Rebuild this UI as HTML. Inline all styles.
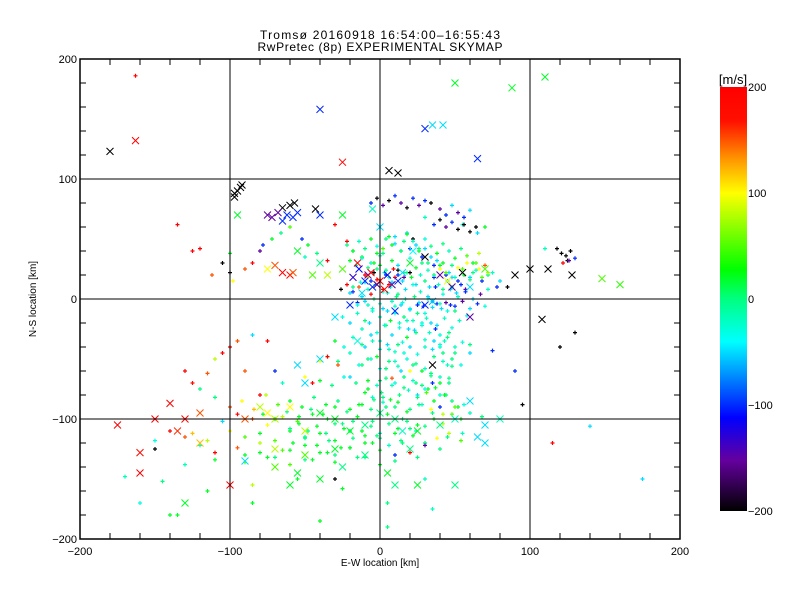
<!DOCTYPE html>
<html><head><meta charset="utf-8"><style>
body{margin:0;background:#fff;}
svg{display:block;font-family:"Liberation Sans",sans-serif;}
</style></head><body>
<svg id="chart" width="800" height="600">
<rect width="800" height="600" fill="#fff"/>
<text x="380" y="39" text-anchor="middle" font-size="12" textLength="240">Tromsø 20160918 16:54:00–16:55:43</text>
<text x="380" y="51" text-anchor="middle" font-size="12" textLength="245">RwPretec (8p) EXPERIMENTAL SKYMAP</text>
<g id="marks"></g>
<g id="axes"></g>
<text x="380" y="566" text-anchor="middle" font-size="10">E-W location [km]</text>
<text x="0" y="0" transform="translate(36,299) rotate(-90)" text-anchor="middle" font-size="10">N-S location [km]</text>
<defs><linearGradient id="cb" x1="0" y1="1" x2="0" y2="0">
<stop offset="0" stop-color="#000"/><stop offset="0.12" stop-color="#64009f"/><stop offset="0.22" stop-color="#0000ff"/><stop offset="0.40" stop-color="#00ffff"/><stop offset="0.50" stop-color="#00ff80"/><stop offset="0.57" stop-color="#00ff00"/><stop offset="0.75" stop-color="#ffff00"/><stop offset="0.83" stop-color="#ff9600"/><stop offset="0.92" stop-color="#ff1000"/><stop offset="1" stop-color="#ff0000"/></linearGradient></defs>
<rect x="720" y="87" width="27" height="424" fill="url(#cb)"/>
<text x="733" y="84" text-anchor="middle" font-size="13">[m/s]</text>
<g id="cbticks" font-size="11"></g>
</svg>
<script>
const xTicks=[-200,-100,0,100,200];
const yTicks=[-200,-100,0,100,200];
const cbTicks=[200,100,0,-100,-200];
// big X markers [x_km, y_km, velocity]
const bigX=[-180,-163,-40,-25,50,88,110,30,35,42,6,12,65,-95,-93,-97,-92,-97,-65,-60,-57,-68,-72,-62,-58,-65,-75,-55,-43,-40,-95,-25,-5,0,-40,-55,-70,-65,-60,-75,-58,-45,-35,-25,-15,-10,-8,-5,0,5,8,12,15,3,-12,20,30,40,45,55,60,70,90,100,112,128,108,148,160,-30,-20,10,30,60,-15,-40,-55,-50,35,60,70,65,-90,-80,-75,-70,-60,-50,-40,-30,-20,-10,0,10,15,25,40,50,20,-10,-30,-50,-70,-100,-120,-130,-140,-150,-135,-160,-175,-160,-90,-70,-55,-40,-25,5,10,50,-60,-130,25,80,70,-120,-18,-2,-14,-6,22,35,48];
const bigY=[123,132,158,114,180,176,185,142,145,145,107,105,117,90,93,88,95,85,76,78,80,72,68,70,68,65,70,72,75,70,70,70,75,60,30,40,28,22,20,25,22,20,20,25,30,15,20,10,15,20,12,15,22,8,5,30,35,20,15,22,10,25,20,25,25,20,-17,17,12,-15,-5,-10,-5,-15,-35,-50,-55,-70,-55,-85,-120,-115,-100,-90,-95,-100,-90,-110,-95,-100,-110,-105,-95,-100,-110,-110,-105,-100,-125,-130,-125,-130,-125,-155,-95,-100,-87,-100,-110,-128,-105,-145,-135,-140,-145,-150,-140,-145,-155,-155,-155,-170,-155,-100,-105,-120,18,12,25,22,40,-2,10];
const bigV=[-200,200,-100,200,20,20,20,-100,-50,-50,-200,-200,-100,-200,-200,-200,-200,-200,-200,-200,-200,-150,-150,-100,-100,-100,-150,-100,-200,-100,20,20,-20,-50,0,20,150,200,180,100,150,50,80,50,200,-100,-150,-100,200,-120,-150,-100,-50,200,-50,20,-200,-150,100,-200,-50,50,-200,-200,-200,-200,-200,50,40,-50,-100,-100,-100,-150,-30,-50,-50,-50,-200,-50,-50,-50,150,80,100,80,100,80,20,20,20,0,0,0,-20,20,0,-20,0,0,20,50,80,200,150,180,200,200,160,180,200,200,-50,50,20,20,0,20,0,0,20,20,20,-20,-50,120,-130,-160,-110,200,-40,-60,-150];
// small + markers
const smX=[-163,-135,-125,-120,-112,-105,-100,-98,-90,-85,-80,-78,-72,-66,-60,-52,-48,-42,-35,-30,-22,-18,-12,-6,-2,2,4,8,10,14,16,18,20,22,24,26,28,30,32,34,36,38,40,42,44,46,48,50,52,55,58,60,62,64,66,68,70,72,75,78,80,85,-10,-6,-2,0,3,6,9,12,15,18,21,24,27,30,33,36,39,42,45,48,51,54,57,-20,-15,-12,-8,-4,2,5,8,11,14,17,20,23,26,29,32,35,38,41,44,47,50,-25,-20,-15,-10,-5,0,4,7,10,13,16,19,22,25,28,31,34,37,40,43,46,-30,-24,-18,-12,-6,0,6,12,18,24,30,36,42,48,54,-35,-28,-20,-14,-8,-2,4,10,16,22,28,34,40,46,-40,-32,-24,-16,-8,0,8,16,24,32,40,48,56,-110,-100,-92,-84,-76,-68,-60,-52,-44,-36,-28,-20,-12,-4,4,12,20,28,36,44,52,60,68,-105,-95,-85,-75,-65,-55,-45,-35,-25,-15,-5,5,15,25,35,45,55,-150,-140,-130,-125,-115,-100,-90,-80,-70,-60,-50,-40,-30,-20,-10,0,10,20,30,40,-120,-110,-95,-80,-65,-50,-35,-20,-5,10,25,-130,-110,-90,-75,-60,-45,-30,-15,0,15,30,-170,-145,-115,-85,-55,-25,5,35,-135,-85,-40,5,-100,-50,110,125,120,130,95,140,115,175,-150,-160,-140,-130,-120,-110,-100,-85,-75,-95,-105,-115,-125,-80,-90,-28,-35,-40,-45,-50,20,25,30,35,40,45,50,60,-65,-70,-20,-10,2,8,14,40,60,75,90,30,55,65,70,-30];
const smY=[186,62,40,42,20,30,22,15,25,30,40,45,50,55,60,50,45,38,32,62,48,40,35,30,38,42,50,45,52,40,48,55,42,50,45,40,35,42,30,35,28,32,25,30,20,22,28,18,15,25,30,18,22,30,25,15,28,20,22,10,15,10,20,15,25,28,22,18,25,20,15,22,18,12,20,15,10,18,12,8,15,10,5,12,8,5,-3,2,-5,0,-8,5,-2,2,-5,0,-8,2,-3,-6,0,-2,-4,-8,-3,-5,-10,-15,-20,-12,-18,-10,-15,-22,-18,-12,-20,-15,-25,-18,-12,-22,-16,-20,-25,-30,-35,-28,-35,-40,-32,-38,-30,-35,-42,-38,-32,-28,-40,-35,-45,-50,-55,-48,-52,-45,-55,-50,-48,-58,-52,-45,-55,-60,-62,-65,-70,-68,-72,-65,-70,-75,-68,-72,-65,-70,-75,-80,-85,-88,-82,-90,-85,-92,-80,-88,-85,-90,-82,-88,-85,-92,-88,-84,-90,-86,-92,-88,-85,-80,-90,-95,-98,-102,-96,-100,-105,-98,-102,-96,-100,-104,-98,-102,-96,-100,-105,-95,-115,-112,-118,-110,-115,-112,-118,-110,-115,-112,-118,-110,-115,-112,-118,-110,-114,-116,-112,-108,-120,-125,-122,-128,-124,-120,-126,-122,-128,-124,-120,-135,-132,-138,-134,-136,-132,-138,-134,-136,-132,-138,-120,-150,-148,-152,-160,-155,-150,-158,-170,-175,-180,-170,-185,-190,38,35,42,32,-40,-28,-88,-106,-120,-150,-125,-170,-180,-60,-75,-50,-40,-30,-35,-35,-45,-62,-70,-80,-60,-55,-48,-52,-70,-65,-60,-80,-75,-70,-90,-55,-45,-45,-70,-60,-65,-78,-82,-66,-60,-40,-38,-43,-60,68,62,55,60,-150];
const smV=[200,200,200,200,150,-200,-200,100,150,200,-150,-100,20,0,50,-100,20,0,200,200,200,0,20,-20,20,50,0,20,-50,20,0,-50,-100,-200,-50,20,-100,-50,0,-50,-100,-50,100,20,-100,-50,0,-20,-100,50,100,-50,0,50,100,-100,150,0,-20,-100,-50,-200,200,-100,0,20,-50,-20,200,-100,-50,0,20,-50,-20,0,-50,-100,-20,0,-50,-20,-50,-100,-150,-50,-100,-50,-20,0,-50,-30,-20,0,-50,-20,-30,0,-50,-100,-20,-50,-100,-50,-150,-100,0,-30,-50,-20,0,-30,-20,0,20,-30,-20,0,-50,-20,0,-30,-20,-50,-100,-30,-20,0,20,-30,-20,0,-50,-30,-20,0,20,0,-20,-50,0,0,-30,20,0,-20,-30,0,20,0,-20,-30,0,20,0,-20,0,20,0,-30,0,20,0,-20,0,0,20,-20,0,-30,0,150,100,120,80,50,20,20,0,20,0,20,20,0,0,20,0,-20,20,0,20,-20,0,-50,200,150,100,80,50,20,20,0,20,0,20,0,20,0,0,-20,-30,200,150,120,80,100,50,20,50,20,0,20,20,0,20,0,20,0,20,0,-20,200,150,80,50,20,20,0,20,0,0,-20,20,50,20,50,20,20,0,20,0,-20,-20,0,20,80,20,20,0,-20,20,20,20,0,20,-20,-20,-200,-200,-200,-200,-50,200,-50,-200,-30,20,200,0,80,200,-50,200,150,200,150,180,200,150,150,200,100,200,100,100,-50,-30,-100,-100,-20,0,-50,-20,-100,-50,20,0,150,-50,-20,0,-100,-100,-20,-30,-50,20,-200,-200,200,-200,-30,20];
// extra dense-cloud small markers
const exX=[-22,-18,-14,-10,-6,-2,2,6,10,14,18,22,26,30,34,38,42,46,50,54,58,62,66,-20,-16,-12,-8,-4,0,4,8,12,16,20,24,28,32,36,40,44,48,52,56,60,64,68,72,-18,-13,-8,-3,2,7,12,17,22,27,32,37,42,47,52,57,62,67,72,-15,-10,-5,0,5,10,15,20,25,30,35,40,45,50,55,60,65,70,-12,-7,-2,3,8,13,18,23,28,33,38,43,48,53,58,-10,-5,0,5,10,15,20,25,30,35,40,45,50,55,-12,-6,0,6,12,18,24,30,36,42,48,-8,-2,4,10,16,22,28,34,40,46,-5,1,7,13,19,25,31,37,43,-60,-54,-48,-42,-36,-30,-24,-18,-12,-6,0,6,12,18,24,30,36,42,48,54,-58,-50,-42,-34,-26,-18,-10,-2,6,14,22,30,38,46,54,-78,-70,-62,-54,-46,-38,-30,-22,-14,-6,2,10,18,26,34,42,50,-90,-80,-70,-60,-50,-40,-30,-20,-10,0,10,20,30,-8,-4,0,4,8,12,16,20,-6,-2,2,6,10,14,18,22,26,30,34,40,44,48,52,56,60,36,40,44,48,52,56,60,64,118,121,124,127,130,122,126,-26,-22,-18,-14,-10,-6,-2,2,6,10];
const exY=[45,40,48,42,50,44,38,52,46,40,54,48,42,50,44,38,46,40,34,42,36,30,38,32,28,34,26,30,36,24,32,28,22,34,26,30,24,20,28,22,18,26,20,16,24,18,22,10,14,8,12,6,10,4,8,12,6,2,10,4,8,2,6,0,4,8,-5,-2,-8,-4,-10,-6,-3,-9,-5,-12,-7,-4,-10,-6,-2,-8,-4,-6,-25,-20,-28,-22,-30,-24,-18,-26,-20,-28,-22,-16,-24,-18,-14,-40,-35,-42,-38,-44,-36,-40,-46,-34,-42,-38,-32,-40,-36,-55,-50,-58,-52,-56,-50,-54,-58,-48,-52,-56,-68,-72,-66,-70,-74,-68,-72,-64,-70,-66,-82,-78,-84,-80,-76,-82,-78,-74,-80,-108,-104,-110,-106,-112,-104,-108,-102,-110,-106,-112,-104,-108,-102,-110,-106,-100,-104,-96,-100,-120,-116,-122,-118,-124,-116,-120,-114,-122,-118,-114,-120,-116,-112,-118,-96,-100,-94,-98,-92,-96,-90,-94,-88,-92,-86,-90,-94,-88,-92,-96,-90,-130,-128,-132,-126,-134,-128,-130,-124,-132,-126,-130,-128,-122,18,22,16,20,14,24,18,22,80,84,78,82,86,80,76,84,78,82,80,75,70,78,72,68,74,62,66,60,64,58,62,56,60,42,38,36,40,34,30,32,8,12,6,10,14,4,16,8,12,18];
const exV=[0,20,-20,0,20,-30,0,20,-50,0,20,-20,0,-30,0,20,0,-20,20,0,50,20,80,20,0,-30,0,20,-20,0,20,-50,0,-30,20,0,-20,0,20,50,-50,100,20,0,-20,50,80,0,-30,-20,-50,-30,-20,0,-50,-30,-20,-50,-100,-30,-50,-20,-100,-50,-150,-20,-30,-50,-20,-30,-50,-20,-30,-50,-100,-30,-50,-20,-30,-100,-150,-50,-100,-30,-20,-50,-30,-20,-50,-30,-20,-50,-30,-20,-50,-20,-30,-20,-30,-50,-20,-30,-50,-20,-30,-50,-30,-20,-50,-30,0,-20,-30,0,-20,-30,0,-20,-30,0,-20,0,-20,0,20,-20,0,-30,0,-20,0,0,20,0,-20,0,20,0,-20,0,50,20,20,0,20,0,20,0,0,20,0,20,0,-20,0,20,0,-20,0,20,80,50,20,20,0,20,0,20,0,20,0,-20,0,20,0,100,80,50,20,20,0,20,0,20,20,0,20,0,-20,0,20,0,100,80,50,20,20,0,20,0,20,0,20,0,20,-100,200,-150,100,-200,150,-100,-50,-200,-150,-200,-100,-200,-150,-200,-100,-150,-200,-100,-150,-100,-200,-150,-100,-50,-150,-100,-50,-100,-200,-150,-100,-200,-200,-200,-200,-200,-200,-200,-200,-100,200,-150,-200,200,-100,150,-50,200];
const X0=380,XS=1.5,Y0=299,YS=1.2;
const sx=v=>X0+v*XS, sy=v=>Y0-v*YS;
const stops=[[0,[0,0,0]],[0.12,[100,0,159]],[0.22,[0,0,255]],[0.40,[0,255,255]],[0.50,[0,255,128]],[0.57,[0,255,0]],[0.75,[255,255,0]],[0.83,[255,150,0]],[0.92,[255,16,0]],[1,[255,0,0]]];
function col(v){let t=Math.max(0,Math.min(1,(v+200)/400));for(let i=1;i<stops.length;i++){if(t<=stops[i][0]){const a=stops[i-1],b=stops[i],f=(t-a[0])/(b[0]-a[0]);const c=a[1].map((q,k)=>Math.round(q+(b[1][k]-q)*f));return `rgb(${c})`;}}return 'rgb(255,0,0)';}
const NS='http://www.w3.org/2000/svg';
function mk(tag,attrs,parent){const e=document.createElementNS(NS,tag);for(const k in attrs)e.setAttribute(k,attrs[k]);parent.appendChild(e);return e;}
const marks=document.getElementById('marks');
function drawSmall(xs,ys,vs){for(let i=0;i<xs.length;i++){const x=sx(xs[i]),y=sy(ys[i]),c=col(vs[i]);
 const p=mk('path',{d:`M${x-2} ${y}h4M${x} ${y-2}v4`,stroke:c,'stroke-width':1.2,fill:'none'},marks);
 
 }}
drawSmall(smX,smY,smV);
drawSmall(exX,exY,exV);
for(let i=0;i<bigX.length;i++){const x=sx(bigX[i]),y=sy(bigY[i]),c=col(bigV[i]);
 const p=mk('path',{d:`M${x-3.5} ${y-3.5}l7 7M${x+3.5} ${y-3.5}l-7 7`,stroke:c,'stroke-width':1,fill:'none'},marks);
 
 }
const ax=document.getElementById('axes');
const L=sx(-200),R=sx(200),T=sy(200),B=sy(-200);
mk('rect',{x:L,y:T,width:R-L,height:B-T,fill:'none',stroke:'#000','stroke-width':1.5},ax);
for(let v=-100;v<=100;v+=100){
 const g1=mk('line',{x1:sx(v),x2:sx(v),y1:T,y2:B,stroke:'#000'},ax);
 
 
 const g2=mk('line',{x1:L,x2:R,y1:sy(v),y2:sy(v),stroke:'#000'},ax);
 
 }
for(let v=-180;v<200;v+=20){
 mk('line',{x1:sx(v),x2:sx(v),y1:T,y2:T+6,stroke:'#000'},ax);
 mk('line',{x1:sx(v),x2:sx(v),y1:B,y2:B-6,stroke:'#000'},ax);
 mk('line',{x1:L,x2:L+6,y1:sy(v),y2:sy(v),stroke:'#000'},ax);
 mk('line',{x1:R,x2:R-6,y1:sy(v),y2:sy(v),stroke:'#000'},ax);}
xTicks.forEach(v=>{const t=mk('text',{x:sx(v),y:B+16,'text-anchor':'middle','font-size':11},ax);t.textContent=v<0?'−'+(-v):v;
 
 });
yTicks.forEach(v=>{const t=mk('text',{x:L-3,y:sy(v)+4,'text-anchor':'end','font-size':11},ax);t.textContent=v<0?'−'+(-v):v;
 
 });
const cbg=document.getElementById('cbticks');
cbTicks.forEach(v=>{const y=87+(200-v)/400*424;const t=mk('text',{x:748,y:y+4,'font-size':11},cbg);t.textContent=v<0?'−'+(-v):v;
 
 });
</script>
</body></html>
